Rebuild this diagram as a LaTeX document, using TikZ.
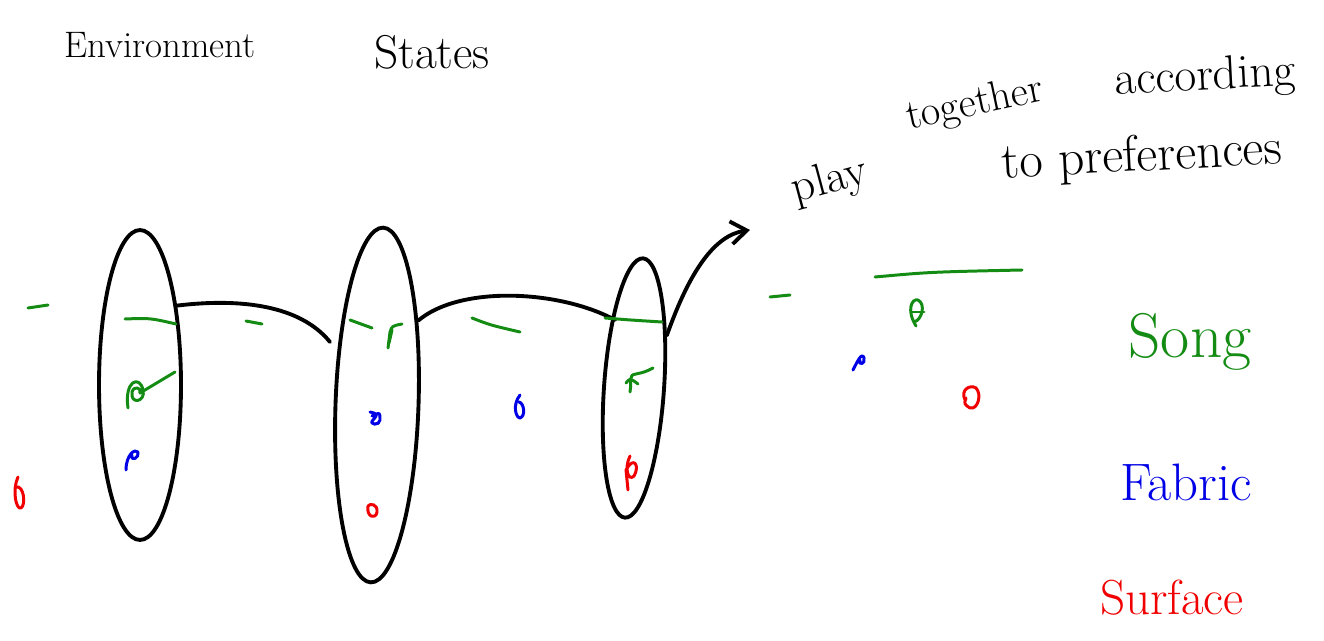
\documentclass[tikz,border=0pt]{standalone}
\usetikzlibrary{shapes.geometric,arrows.meta}
\definecolor{sgreen}{RGB}{20,140,20}
\definecolor{sblue}{RGB}{0,0,230}
\definecolor{sred}{RGB}{240,0,0}
\begin{document}
\begin{tikzpicture}[x=0.02cm,y=-0.02cm,
  ink/.style={line width=2.2pt,line cap=round,line join=round},
  gink/.style={sgreen,line width=1.7pt,line cap=round,line join=round},
  bink/.style={sblue,line width=1.7pt,line cap=round,line join=round},
  rink/.style={sred,line width=1.7pt,line cap=round,line join=round},
  ring/.style={ellipse,draw,line width=2.2pt,inner sep=0pt},
  hand/.style={inner sep=0pt}]
\useasboundingbox (0,0) rectangle (1324,641);

% title
\node[hand,font=\fontsize{21}{25}\selectfont] (t1) at (160,45) {Environment};
\node[hand,font=\fontsize{27}{31}\selectfont] (t2) at (432,52) {States};

% ellipses
\node[ring,minimum width=1.64cm,minimum height=6.2cm] (e1) at (140,385) {};
\node[ring,minimum width=1.66cm,minimum height=7.1cm,rotate=-2] (e2) at (377,405) {};
\node[ring,minimum width=1.2cm,minimum height=5.2cm,rotate=-4] (e3) at (634,388) {};

% connecting curves
\coordinate (c1) at (330,342);
\coordinate (c2) at (615,320);
\coordinate (c3) at (750,230);
\draw[ink] (e1.65) .. controls (240,298) and (300,305) .. (c1);
\draw[ink] (e2.66) .. controls (460,285) and (560,290) .. (c2);
\draw[ink,-{Straight Barb[length=9pt,width=13pt]}] (e3.62) .. controls (690,270) and (715,235) .. (c3);

% play together according to preferences
\node[hand,font=\fontsize{26}{30}\selectfont,rotate=15] (p1) at (830,182) {play};
\node[hand,font=\fontsize{24}{28}\selectfont,rotate=12] (p2) at (975,105) {together};
\node[hand,font=\fontsize{27}{31}\selectfont,rotate=3] (p3) at (1205,78) {according};
\node[hand,font=\fontsize{29}{33}\selectfont,rotate=3] (p4) at (1142,158) {to preferences};

% green dashes (song line)
\draw[gink] (28,308) -- (48,305);
\draw[gink] (125,319) .. controls (150,318) .. (176,324);
\draw[gink] (246,321) -- (262,324);
\draw[gink] (350,320) -- (372,328);
\draw[gink] (472,318) .. controls (490,325) .. (520,332);
\draw[gink] (605,318) .. controls (630,320) .. (662,322);
\draw[gink] (770,297) -- (790,295);
\draw[gink] (875,277) .. controls (930,272) .. (1022,270);

% green marks
\draw[gink] (128,408) .. controls (124,380) and (140,375) .. (143,390)
  .. controls (146,402) and (130,405) .. (132,392) .. controls (134,385) and (142,388) .. (140,393)
  -- (175,372);
\draw[gink] (388,348) -- (390,332) .. controls (392,326) .. (402,324);
\draw[gink] (392,330) -- (389,343);
\draw[gink] (630,392) .. controls (632,380) and (628,375) .. (636,374)
  .. controls (645,372) .. (653,368);
\draw[gink] (626,383) .. controls (630,378) .. (638,384);
\draw[gink] (916,326) .. controls (906,310) and (912,298) .. (918,300)
  .. controls (926,304) and (922,320) .. (914,322);
\draw[gink] (911,312) -- (924,312);

% blue marks
\draw[bink] (126,470) .. controls (126,455) and (135,448) .. (138,452)
  .. controls (140,458) and (130,462) .. (132,455);
\draw[bink] (370,412) .. controls (378,414) .. (373,420) .. controls (368,425) and (380,426) .. (380,420)
  .. controls (380,412) .. (372,416);
\draw[bink] (520,395) .. controls (512,405) and (516,418) .. (520,418) .. controls (526,416) and (524,403) .. (519,402);
\draw[bink] (853,370) .. controls (858,360) and (862,352) .. (864,358) .. controls (866,364) and (858,366) .. (860,360);

% red marks
\draw[rink] (18,477) .. controls (12,490) and (16,510) .. (21,508)
  .. controls (26,505) and (24,485) .. (16,487);
\draw[rink] (368,506) .. controls (366,517) and (376,520) .. (377,512) .. controls (378,504) and (370,503) .. (368,506);
\draw[rink] (630,456) .. controls (624,468) and (628,482) .. (634,476)
  .. controls (640,466) and (634,455) .. (626,470) -- (628,490);
\draw[rink] (965,400) .. controls (960,390) and (970,384) .. (976,388)
  .. controls (982,394) and (978,410) .. (970,408) .. controls (964,404) .. (966,398);

% legend
\node[hand,text=sgreen,font=\fontsize{36}{40}\selectfont] (l1) at (1190,342) {Song};
\node[hand,text=sblue,font=\fontsize{30}{34}\selectfont] (l2) at (1186,482) {Fabric};
\node[hand,text=sred,font=\fontsize{28}{32}\selectfont] (l3) at (1172,598) {Surface};
\end{tikzpicture}
\end{document}
